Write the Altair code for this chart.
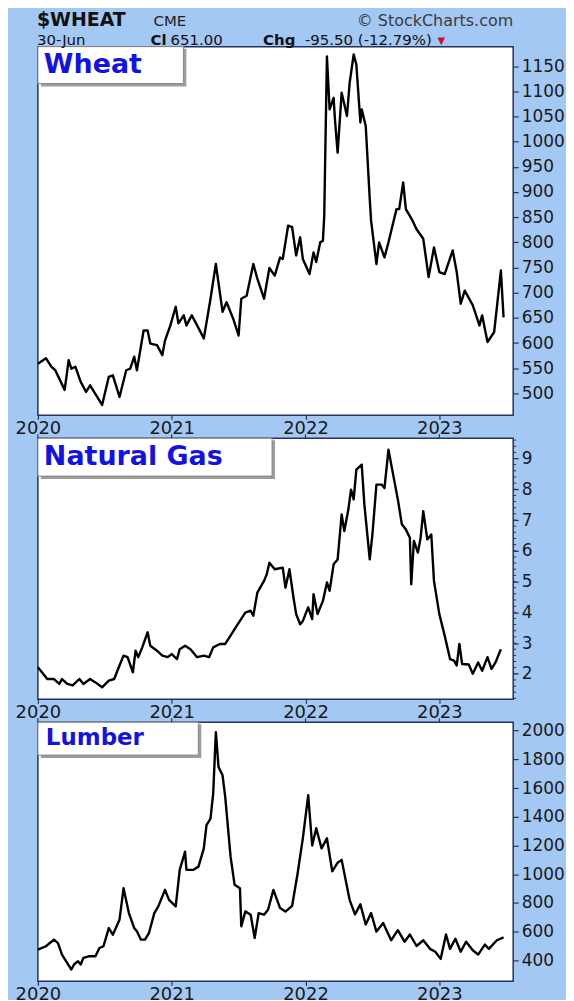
import altair as alt
import pandas as pd

# ---------------- data (decimal years, weekly-ish closes) ----------------
wheat_t = [2020.00, 2020.06, 2020.10, 2020.13, 2020.20, 2020.23, 2020.25, 2020.28, 2020.32, 2020.36,
           2020.39, 2020.42, 2020.48, 2020.53, 2020.56, 2020.61, 2020.66, 2020.69, 2020.72, 2020.74,
           2020.79, 2020.82, 2020.84, 2020.89, 2020.93, 2020.95, 2020.99, 2021.03, 2021.05, 2021.09,
           2021.11, 2021.15, 2021.19, 2021.24, 2021.29, 2021.33, 2021.38, 2021.41, 2021.46, 2021.50,
           2021.52, 2021.56, 2021.61, 2021.64, 2021.69, 2021.73, 2021.77, 2021.81, 2021.83, 2021.87,
           2021.90, 2021.93, 2021.96, 2021.98, 2022.03, 2022.06, 2022.08, 2022.11, 2022.13, 2022.14,
           2022.16, 2022.18, 2022.21, 2022.22, 2022.24, 2022.27, 2022.31, 2022.33, 2022.36, 2022.38,
           2022.41, 2022.42, 2022.45, 2022.48, 2022.49, 2022.53, 2022.55, 2022.59, 2022.62, 2022.68,
           2022.70, 2022.73, 2022.75, 2022.80, 2022.83, 2022.88, 2022.92, 2022.96, 2023.00, 2023.04,
           2023.10, 2023.13, 2023.16, 2023.19, 2023.25, 2023.30, 2023.32, 2023.36, 2023.41, 2023.46,
           2023.48]
wheat_v = [559, 570, 553, 546, 507, 566, 549, 553, 523, 503,
           516, 503, 477, 533, 536, 493, 546, 549, 573, 546,
           625, 625, 599, 596, 576, 605, 635, 672, 639, 655,
           635, 655, 635, 609, 688, 757, 662, 681, 648, 615,
           688, 694, 757, 728, 688, 749, 734, 770, 767, 833,
           830, 774, 810, 767, 737, 780, 761, 800, 803, 853,
           1169, 1064, 1087, 1044, 978, 1097, 1051, 1117, 1173, 1153,
           1038, 1064, 1031, 886, 843, 757, 800, 770, 800, 866,
           866, 919, 866, 843, 826, 807, 731, 790, 741, 737,
           784, 741, 678, 704, 675, 635, 655, 602, 622, 744,
           651]

gas_t = [2020.00, 2020.03, 2020.07, 2020.12, 2020.16, 2020.18, 2020.22, 2020.26, 2020.31, 2020.34,
         2020.39, 2020.43, 2020.48, 2020.53, 2020.57, 2020.61, 2020.64, 2020.67, 2020.71, 2020.73,
         2020.75, 2020.78, 2020.82, 2020.84, 2020.89, 2020.93, 2020.97, 2021.00, 2021.04, 2021.06,
         2021.10, 2021.14, 2021.19, 2021.24, 2021.28, 2021.31, 2021.36, 2021.40, 2021.44, 2021.47,
         2021.51, 2021.55, 2021.59, 2021.61, 2021.64, 2021.69, 2021.71, 2021.73, 2021.77, 2021.83,
         2021.85, 2021.88, 2021.91, 2021.93, 2021.96, 2021.98, 2022.02, 2022.05, 2022.06, 2022.09,
         2022.13, 2022.16, 2022.18, 2022.21, 2022.24, 2022.27, 2022.29, 2022.32, 2022.34, 2022.36,
         2022.38, 2022.42, 2022.44, 2022.48, 2022.50, 2022.53, 2022.57, 2022.59, 2022.62, 2022.65,
         2022.69, 2022.72, 2022.75, 2022.78, 2022.79, 2022.81, 2022.84, 2022.86, 2022.88, 2022.91,
         2022.94, 2022.96, 2023.00, 2023.04, 2023.08, 2023.11, 2023.13, 2023.15, 2023.17, 2023.22,
         2023.25, 2023.29, 2023.32, 2023.36, 2023.39, 2023.42, 2023.46]
gas_v = [2.21, 2.05, 1.83, 1.83, 1.67, 1.83, 1.67, 1.62, 1.83, 1.67,
         1.83, 1.72, 1.56, 1.78, 1.83, 2.27, 2.59, 2.54, 2.05, 2.75,
         2.54, 2.86, 3.35, 2.91, 2.75, 2.59, 2.54, 2.64, 2.48, 2.80,
         2.91, 2.80, 2.54, 2.59, 2.54, 2.86, 2.97, 2.97, 3.24, 3.45,
         3.72, 3.99, 4.05, 3.89, 4.64, 5.02, 5.23, 5.61, 5.40, 5.45,
         4.80, 5.40, 4.48, 3.94, 3.61, 3.72, 4.16, 3.78, 4.59, 3.94,
         4.37, 4.97, 4.70, 5.56, 5.72, 7.18, 6.64, 7.34, 7.99, 7.67,
         8.64, 8.80, 7.50, 5.72, 6.53, 8.15, 8.15, 8.04, 9.29, 8.59,
         7.67, 6.86, 6.69, 6.42, 4.91, 6.32, 5.94, 6.42, 7.29, 6.37,
         6.53, 5.02, 3.94, 3.24, 2.48, 2.43, 2.27, 2.97, 2.32, 2.30,
         2.00, 2.37, 2.10, 2.54, 2.16, 2.37, 2.80]

lumber_t = [2020.00, 2020.06, 2020.12, 2020.15, 2020.18, 2020.25, 2020.27, 2020.30, 2020.32, 2020.34,
            2020.38, 2020.43, 2020.46, 2020.49, 2020.53, 2020.56, 2020.61, 2020.64, 2020.68, 2020.72,
            2020.74, 2020.77, 2020.80, 2020.83, 2020.87, 2020.90, 2020.95, 2020.98, 2021.03, 2021.06,
            2021.10, 2021.11, 2021.16, 2021.20, 2021.24, 2021.26, 2021.29, 2021.31, 2021.33, 2021.35,
            2021.38, 2021.40, 2021.44, 2021.47, 2021.51, 2021.52, 2021.55, 2021.59, 2021.62, 2021.65,
            2021.69, 2021.72, 2021.76, 2021.81, 2021.85, 2021.90, 2021.94, 2021.98, 2022.02, 2022.05,
            2022.08, 2022.12, 2022.16, 2022.20, 2022.24, 2022.27, 2022.30, 2022.33, 2022.37, 2022.41,
            2022.45, 2022.49, 2022.53, 2022.58, 2022.64, 2022.69, 2022.74, 2022.78, 2022.83, 2022.88,
            2022.93, 2022.97, 2023.01, 2023.05, 2023.08, 2023.12, 2023.16, 2023.20, 2023.25, 2023.29,
            2023.34, 2023.37, 2023.43, 2023.48]
lumber_v = [475, 498, 544, 520, 440, 336, 371, 394, 371, 417,
            428, 428, 486, 498, 625, 579, 683, 902, 729, 625,
            602, 544, 544, 590, 729, 776, 891, 821, 776, 1030,
            1157, 1030, 1030, 1053, 1180, 1342, 1388, 1561, 1990, 1747,
            1689, 1539, 1122, 926, 902, 637, 741, 718, 556, 729,
            718, 752, 891, 764, 740, 780, 1000, 1250, 1550, 1200,
            1320, 1180, 1250, 1020, 1080, 1100, 960, 820, 720, 790,
            650, 730, 600, 660, 540, 610, 530, 580, 500, 540,
            480, 460, 410, 580, 480, 550, 460, 530, 470, 440,
            510, 480, 540, 560]

year_ticks = [2020, 2021, 2022, 2023]
wheat_ticks = list(range(500, 1151, 50))
gas_ticks = [2, 3, 4, 5, 6, 7, 8, 9]
gas_minor = [round(1.2 + 0.2 * i, 1) for i in range(43)]
lumber_ticks = list(range(400, 2001, 200))

header_items = [
    # text, x, y, size, weight, color, align
    ("$WHEAT", -1, -21, 19, "bold", "#111111", "left"),
    ("CME", 116, -21, 15, "normal", "#222222", "left"),
    ("\u00a9 StockCharts.com", 477, -21, 16, "normal", "#3a3a3a", "right"),
    ("30-Jun", -1, -2, 15, "normal", "#111111", "left"),
    ("Cl", 113, -2, 15, "bold", "#111111", "left"),
    ("651.00", 133, -2, 15, "normal", "#111111", "left"),
    ("Chg", 226, -2, 15, "bold", "#111111", "left"),
    ("-95.50 (-12.79%)", 268, -2, 15, "normal", "#111111", "left"),
    ("\u25bc", 401, -3, 10, "normal", "#c8102e", "left"),
]

# ---------------- styling ----------------
FONT = "DejaVu Sans"
AXIS_COLOR = "#27325a"
BG = "#a4c8f4"
X_DOMAIN = [2020, 2023.552]
W = 477

one = pd.DataFrame({"k": [0]})
years_df = pd.DataFrame({"t": year_ticks})


def panel(t, v, ydom, yvals, height, title, box_w, box_h, tsize, tx, ty,
          top_ticks=False, minor=None, extra=None):
    df = pd.DataFrame({"t": t, "v": v})
    xscale = alt.Scale(domain=X_DOMAIN, nice=False, zero=False)
    yscale = alt.Scale(domain=ydom, nice=False, zero=False)
    xaxis = alt.Axis(values=year_ticks, format="d", orient="bottom", labelFontSize=18,
                     tickSize=4, labelPadding=0, grid=False, domain=False, title=None,
                     labelFlush=False, labelOverlap=False)
    yaxis = alt.Axis(values=yvals, format="d", orient="right", labelFontSize=17, labelPadding=3,
                     tickSize=5, grid=False, domain=False, title=None, labelOverlap=False)
    line = alt.Chart(df).mark_line(color="black", strokeWidth=2.4, strokeJoin="round").encode(
        x=alt.X("t:Q", scale=xscale, axis=xaxis),
        y=alt.Y("v:Q", scale=yscale, axis=yaxis),
    )
    shadow = alt.Chart(one).mark_rect(color="#9c9c9c").encode(
        x=alt.value(3), x2=alt.value(box_w + 3), y=alt.value(2), y2=alt.value(box_h + 3))
    box = alt.Chart(one).mark_rect(fill="white", stroke="#8a8a8a", strokeWidth=1).encode(
        x=alt.value(0), x2=alt.value(box_w), y=alt.value(0), y2=alt.value(box_h))
    label = alt.Chart(one).mark_text(text=title, font=FONT, fontWeight="bold", fontSize=tsize,
                                     color="#1212e6", align="left", baseline="alphabetic").encode(
        x=alt.value(tx), y=alt.value(ty))
    layers = [line, shadow, box, label]
    if top_ticks:
        top = alt.Chart(years_df).mark_rule(color=AXIS_COLOR, strokeWidth=1.2).encode(
            x=alt.X("t:Q", scale=xscale, axis=xaxis),
            y=alt.value(-4), y2=alt.value(0),
        )
        layers.append(top)
    if minor:
        mdf = pd.DataFrame({"v": minor})
        mt = alt.Chart(mdf).mark_rule(color=AXIS_COLOR, strokeWidth=1).encode(
            y=alt.Y("v:Q", scale=yscale, axis=yaxis),
            x=alt.value(W), x2=alt.value(W + 3),
        )
        layers.append(mt)
    if extra:
        layers.extend(extra)
    return alt.layer(*layers).properties(width=W, height=height)


header = []
for txt, x, y, size, weight, color, align in header_items:
    header.append(alt.Chart(one).mark_text(text=txt, font=FONT, fontSize=size, fontWeight=weight,
                                           color=color, align=align, baseline="alphabetic").encode(
        x=alt.value(x), y=alt.value(y)))

wheat = panel(wheat_t, wheat_v, [456.5, 1188.6], wheat_ticks, 370, "Wheat", 146, 37, 27, 6, 26,
              extra=header)
gas = panel(gas_t, gas_v, [1.17, 9.66], gas_ticks, 262, "Natural Gas", 235, 38, 27, 6, 27,
            top_ticks=True, minor=gas_minor)
lumber = panel(lumber_t, lumber_v, [254, 2059], lumber_ticks, 260, "Lumber", 161, 33, 23, 8, 23,
               top_ticks=True)

chart = alt.vconcat(wheat, gas, lumber, spacing=23, bounds="flush").properties(
    background=BG,
    padding={"left": 6, "top": 0, "right": 0, "bottom": -6},
).configure_view(
    stroke=AXIS_COLOR, strokeWidth=1.5, fill="white"
).configure_axis(
    labelFont=FONT, labelColor="#1a1a1a", tickColor=AXIS_COLOR, tickWidth=1.2
)

chart.save("out.html", embed_options={"renderer": "svg", "actions": False})
